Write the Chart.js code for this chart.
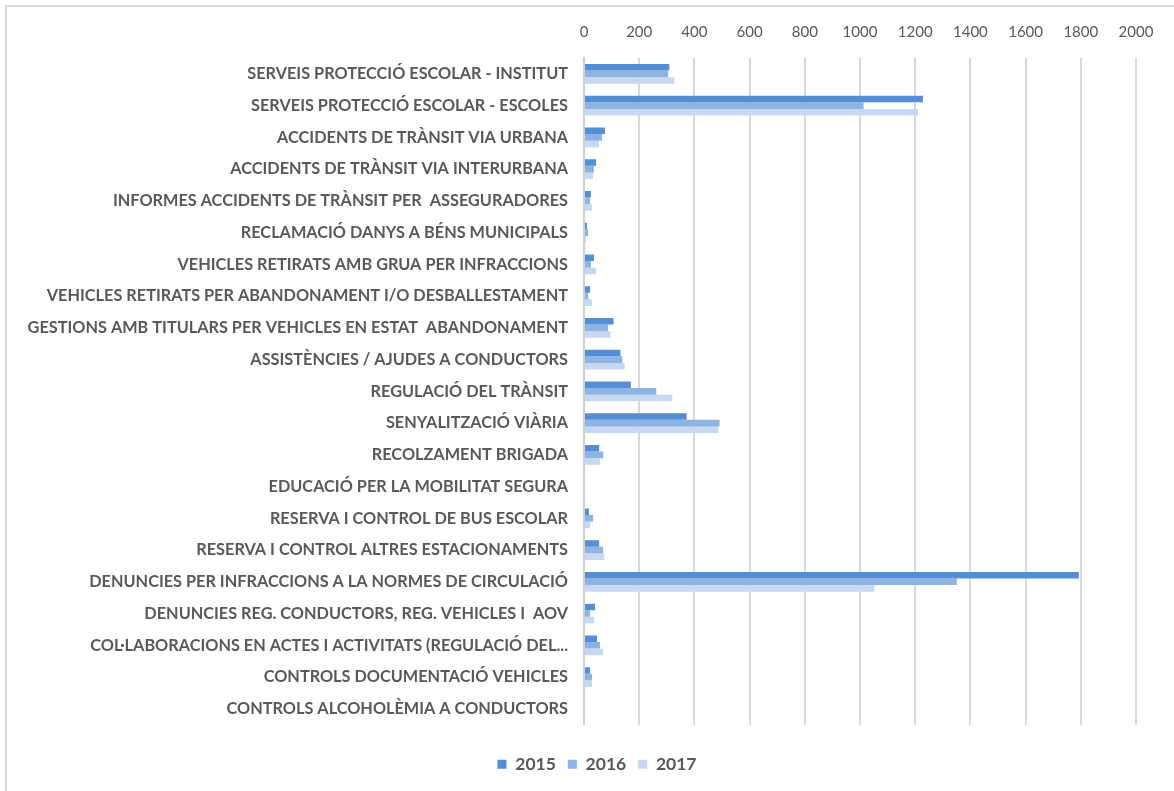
<!DOCTYPE html>
<html>
<head>
<meta charset="utf-8">
<script src="https://cdn.jsdelivr.net/npm/chart.js@4.4.0/dist/chart.umd.min.js"></script>
<style>
  html, body { margin: 0; padding: 0; background: #fff; }
  .frame {
    position: absolute; left: 5px; top: 5px; width: 1200px; height: 820px;
    border-left: 2px solid #d9d9d9; border-top: 2px solid #d9d9d9;
  }
  .wrap { position: absolute; left: 0; top: 0; width: 1174px; height: 791px; }
</style>
</head>
<body>
<div class="frame"></div>
<div class="wrap"><canvas id="myChart"></canvas></div>
<script>
// categories, top to bottom as in the picture
const labels = [
  "SERVEIS PROTECCIÓ ESCOLAR - INSTITUT",
  "SERVEIS PROTECCIÓ ESCOLAR - ESCOLES",
  "ACCIDENTS DE TRÀNSIT VIA URBANA",
  "ACCIDENTS DE TRÀNSIT VIA INTERURBANA",
  "INFORMES ACCIDENTS DE TRÀNSIT PER  ASSEGURADORES",
  "RECLAMACIÓ DANYS A BÉNS MUNICIPALS",
  "VEHICLES RETIRATS AMB GRUA PER INFRACCIONS",
  "VEHICLES RETIRATS PER ABANDONAMENT I/O DESBALLESTAMENT",
  "GESTIONS AMB TITULARS PER VEHICLES EN ESTAT  ABANDONAMENT",
  "ASSISTÈNCIES / AJUDES A CONDUCTORS",
  "REGULACIÓ DEL TRÀNSIT",
  "SENYALITZACIÓ VIÀRIA",
  "RECOLZAMENT BRIGADA",
  "EDUCACIÓ PER LA MOBILITAT SEGURA",
  "RESERVA I CONTROL DE BUS ESCOLAR",
  "RESERVA I CONTROL ALTRES ESTACIONAMENTS",
  "DENUNCIES PER INFRACCIONS A LA NORMES DE CIRCULACIÓ",
  "DENUNCIES REG. CONDUCTORS, REG. VEHICLES I  AOV",
  "COL·LABORACIONS EN ACTES I ACTIVITATS (REGULACIÓ DEL...",
  "CONTROLS DOCUMENTACIÓ VEHICLES",
  "CONTROLS ALCOHOLÈMIA A CONDUCTORS",
];

const years = ["2015", "2016", "2017"];

const values2015 = [309, 1228, 76, 44, 25, 11, 36, 22, 107, 132, 170, 372, 55, 0, 18, 55, 1793, 40, 47, 22, 0];
const values2016 = [305, 1013, 65, 36, 22, 15, 25, 15, 87, 139, 262, 491, 70, 0, 33, 69, 1351, 22, 58, 29, 0];
const values2017 = [327, 1210, 55, 33, 29, 7, 44, 29, 96, 147, 320, 487, 58, 0, 22, 73, 1052, 36, 69, 29, 0];

const xTicks = [0, 200, 400, 600, 800, 1000, 1200, 1400, 1600, 1800, 2000];

const colors = ["#558ED5", "#8EB4E3", "#C6D9F1"];
const textGray = "#595959";

const ctx = document.getElementById("myChart").getContext("2d");

const data = {
  labels,
  datasets: [values2015, values2016, values2017].map((vals, i) => ({
    label: years[i],
    data: vals,
    backgroundColor: colors[i],
    categoryPercentage: 0.62,
    barPercentage: 1.0,
  })),
};

// legend in the original sits a bit right of the canvas centre
const legendShift = {
  id: "legendShift",
  afterLayout(chart) {
    chart.legend.left += 24;
    chart.legend.right += 24;
  },
};

const config = {
  type: "bar",
  data: data,
  plugins: [legendShift],
  options: {
    indexAxis: "y",
    responsive: true,
    maintainAspectRatio: false,
    animation: false,
    layout: {
      padding: { left: 10, right: 38, top: 6, bottom: 8 },
    },
    plugins: {
      legend: {
        display: true,
        position: "bottom",
        // empty title just to push the legend items down
        title: { display: true, text: " ", font: { size: 4 }, padding: { top: 14, bottom: 0 } },
        labels: {
          boxWidth: 9,
          boxHeight: 9,
          padding: 12,
          color: textGray,
          font: { family: "Lato", size: 17.5, weight: "bold" },
        },
      },
      tooltip: { enabled: false },
    },
    scales: {
      x: {
        position: "top",
        min: 0,
        max: 2000,
        afterBuildTicks: (scale) => {
          scale.ticks = xTicks.map((v) => ({ value: v }));
        },
        grid: {
          color: "#d9d9d9",
          lineWidth: 2,
          drawTicks: false,
        },
        border: { display: false },
        ticks: {
          color: textGray,
          padding: 17,
          font: { family: "Lato", size: 15 },
          callback: (v) => String(v),
        },
      },
      y: {
        grid: { display: false, drawTicks: false },
        border: { display: true, color: "#d0d0d0", width: 2 },
        afterFit: (scale) => {
          scale.width = 574;
        },
        ticks: {
          color: textGray,
          padding: 16,
          autoSkip: false,
          font: { family: "Lato", size: 16.3, weight: "bold" },
        },
      },
    },
  },
};

new Chart(ctx, config);
</script>
</body>
</html>
